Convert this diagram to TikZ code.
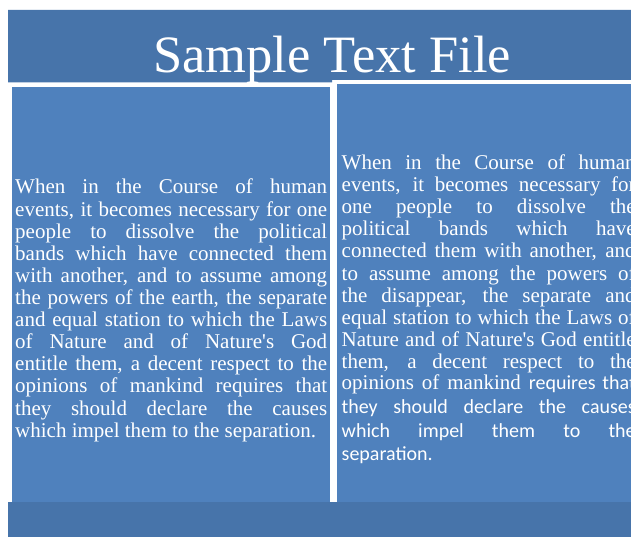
\documentclass[tikz,border=0pt]{standalone}
\usepackage{fontspec}
\newfontfamily\bodyserif{Liberation Serif}
\newfontfamily\bodysans{Carlito}
\definecolor{bandblue}{RGB}{71,116,170}
\definecolor{panelblue}{RGB}{79,129,189}
\newcommand{\jl}[1]{\makebox[312pt][s]{#1}}
\newcommand{\jr}[1]{\makebox[294pt][s]{#1}}
\begin{document}
\begin{tikzpicture}[x=1pt,y=-1pt,
  txt/.style={inner sep=0pt, anchor=base west, text=white, font=\bodyserif\fontsize{21}{22}\selectfont},
  stxt/.style={inner sep=0pt, anchor=base west, text=white, font=\bodysans\fontsize{20}{24}\selectfont},
  titletxt/.style={inner sep=0pt, anchor=base, text=white, font=\bodyserif\fontsize{52.5}{56}\selectfont}]
\useasboundingbox (0,0) rectangle (631,537);
\fill[white] (0,0) rectangle (631,537);
% bands and panels
\fill[bandblue] (8,10) -- (631,10) -- (631,80) -- (332,80) -- (332,82.3) -- (8,82.3) -- cycle;
\fill[panelblue] (11.5,87.3) rectangle (330,502);
\fill[panelblue] (336.7,84) rectangle (631,502);
\fill[bandblue] (8,502) rectangle (631,537);
% title
\node[titletxt] (title) at (332,72.7) {Sample Text File};
% left column
\node[txt] (l1) at (15,194) {\jl{When in the Course of human}};
\node[txt] (l2) at (15,216.1) {\jl{events, it becomes necessary for one}};
\node[txt] (l3) at (15,238.2) {\jl{people to dissolve the political}};
\node[txt] (l4) at (15,260.3) {\jl{bands which have connected them}};
\node[txt] (l5) at (15,282.4) {\jl{with another, and to assume among}};
\node[txt] (l6) at (15,304.5) {\jl{the powers of the earth, the separate}};
\node[txt] (l7) at (15,326.6) {\jl{and equal station to which the Laws}};
\node[txt] (l8) at (15,348.7) {\jl{of Nature and of Nature's God}};
\node[txt] (l9) at (15,370.8) {\jl{entitle them, a decent respect to the}};
\node[txt] (l10) at (15,392.9) {\jl{opinions of mankind requires that}};
\node[txt] (l11) at (15,415) {\jl{they should declare the causes}};
\node[txt] (l12) at (15,437.1) {which impel them to the separation.};
% right column
\begin{scope}
\clip (336.7,84) rectangle (631,502);
\node[txt] (r1) at (341.5,170) {\jr{When in the Course of human}};
\node[txt] (r2) at (341.5,192) {\jr{events, it becomes necessary for}};
\node[txt] (r3) at (341.5,214) {\jr{one people to dissolve the}};
\node[txt] (r4) at (341.5,236) {\jr{political bands which have}};
\node[txt] (r5) at (341.5,258) {\jr{connected them with another, and}};
\node[txt] (r6) at (341.5,280) {\jr{to assume among the powers of}};
\node[txt] (r7) at (341.5,302) {\jr{the disappear, the separate and}};
\node[txt] (r8) at (341.5,324) {\jr{equal station to which the Laws of}};
\node[txt] (r9) at (341.5,346) {\jr{Nature and of Nature's God entitle}};
\node[txt] (r10) at (341.5,368) {\jr{them, a decent respect to the}};
\node[txt] (r11) at (341.5,389) {\jr{opinions of mankind {\bodysans\fontsize{20}{24}\selectfont requires that}}};
\node[stxt] (r12) at (341.5,413) {\jr{they should declare the causes}};
\node[stxt] (r13) at (341.5,437) {\jr{which impel them to the}};
\node[stxt] (r14) at (341.5,460) {separation.};
\end{scope}
\end{tikzpicture}
\end{document}
